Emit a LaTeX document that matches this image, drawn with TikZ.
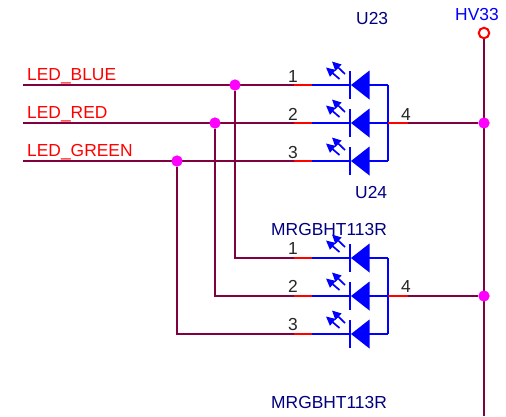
\documentclass[tikz,border=0pt]{standalone}
\usepackage{fontspec}
\setmainfont{Liberation Sans}
\usetikzlibrary{arrows.meta}
\definecolor{wirec}{HTML}{800040}
\definecolor{navyc}{HTML}{000080}
\definecolor{redc}{HTML}{FF0000}
\definecolor{bluec}{HTML}{0000FF}
\definecolor{dotc}{HTML}{FF00FF}
\tikzset{
 wire/.style={draw=wirec,line width=1.8pt},
 pinred/.style={draw=redc,line width=1.8pt},
 ledline/.style={draw=bluec,line width=1.8pt},
 body/.style={fill=bluec,draw=none},
 lab/.style={inner sep=0pt,anchor=base west,font=\fontsize{17.4}{17.4}\selectfont},
 netlab/.style={lab,text=redc},
 pinlab/.style={inner sep=0pt,anchor=base,font=\fontsize{17.4}{17.4}\selectfont,text=black!85},
 partlab/.style={lab,text=navyc},
 powlab/.style={lab,text=bluec},
 junction/.style={circle,fill=dotc,draw=none,minimum size=11pt,inner sep=0pt},
 powc/.style={circle,draw=redc,line width=2pt,fill=white,minimum size=10.5pt,inner sep=0pt},
 photon/.style={draw=bluec,line width=1.7pt,-{Triangle[length=9pt,width=8.5pt]}},
}
% #1 prefix, #2 wire y, #3 pin number, #4 pin label baseline
\newcommand{\ledrow}[4]{
 \coordinate (#1p) at (294,#2);
 \coordinate (#1a) at (312,#2);
 \coordinate (#1k) at (350,#2);
 \coordinate (#1b) at (369,#2);
 \coordinate (#1c) at (388,#2);
 \draw[pinred] (#1p) -- (#1a);
 \draw[ledline] (#1a) -- (#1k);
 \draw[ledline] (#1b) -- (#1c);
 \draw[ledline] ([yshift=-14pt]#1k) -- ([yshift=14pt]#1k);
 \fill[body] (351,#2) -- (369.5,#2-14.5) -- (369.5,#2+14.5) -- cycle;
 \draw[photon] (345,#2-11) -- (332,#2-23.5);
 \draw[photon] (339.5,#2-6) -- (326,#2-17.5);
 \node[pinlab] (#1n) at (293,#4) {#3};
}
\begin{document}
\begin{tikzpicture}[x=1pt,y=-1pt]
\useasboundingbox (0,0) rectangle (506,416);
\fill[white] (0,0) rectangle (506,416);
\coordinate (sb) at (23,85);
\coordinate (sr) at (23,123);
\coordinate (sg) at (23,161);
\node[junction] (jb) at (235,85) {};
\node[junction] (jr) at (215,123) {};
\node[junction] (jg) at (177,161) {};
\node[junction] (j1) at (484,123) {};
\node[junction] (j2) at (484,296) {};
\coordinate (bend) at (484,416);
\node[powc] (pow) at (484,33) {};
\ledrow{a}{85}{1}{82}
\ledrow{b}{123}{2}{120}
\ledrow{c}{161}{3}{158}
\ledrow{d}{258}{1}{254}
\ledrow{e}{296}{2}{292}
\ledrow{f}{334}{3}{330}
\draw[wire] (sb) -- (ap);
\draw[wire] (sr) -- (bp);
\draw[wire] (sg) -- (cp);
\draw[wire] (jb) |- (dp);
\draw[wire] (jr) |- (ep);
\draw[wire] (jg) |- (fp);
\draw[ledline] (ac) -- (cc);
\draw[ledline] (dc) -- (fc);
\coordinate (r1) at (408,123);
\coordinate (r2) at (408,296);
\draw[pinred] (bc) -- (r1);
\draw[pinred] (ec) -- (r2);
\draw[wire] (r1) -- (j1);
\draw[wire] (r2) -- (j2);
\draw[wire] (pow) -- (bend);
\node[junction] at (jb) {};
\node[junction] at (jr) {};
\node[junction] at (jg) {};
\node[junction] at (j1) {};
\node[junction] at (j2) {};
\node[netlab] (l1) at (27,80) {LED\_BLUE};
\node[netlab] (l2) at (27,118) {LED\_RED};
\node[netlab] (l3) at (27,156) {LED\_GREEN};
\node[pinlab] (n4a) at (406,120) {4};
\node[pinlab] (n4b) at (406,292) {4};
\node[partlab] (u23) at (356,24) {U23};
\node[partlab] (u24) at (355,198) {U24};
\node[partlab] (m1) at (271,235) {MRGBHT113R};
\node[partlab] (m2) at (271,408) {MRGBHT113R};
\node[powlab] (hv) at (455,20) {HV33};
\end{tikzpicture}
\end{document}
